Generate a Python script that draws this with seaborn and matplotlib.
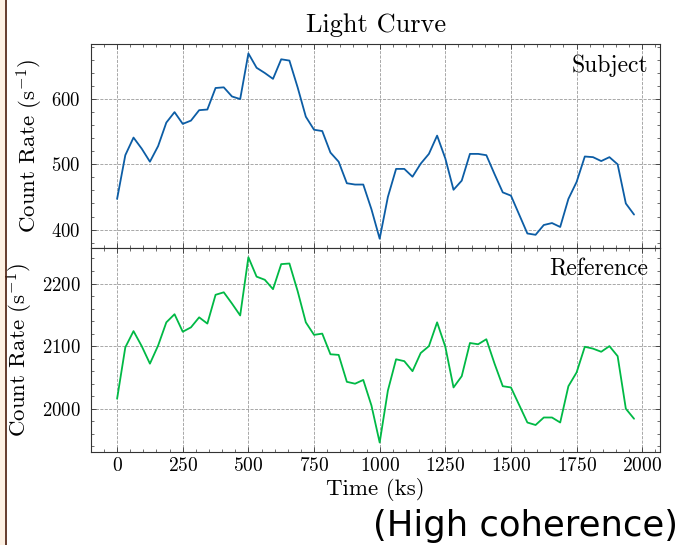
import numpy as np
import pandas as pd
import matplotlib
matplotlib.use("Agg")
import matplotlib.pyplot as plt
from matplotlib.ticker import AutoMinorLocator, MultipleLocator
from matplotlib.patches import Rectangle
from matplotlib.lines import Line2D
import seaborn as sns

# light curve binning: 64 bins of 31.25 ks
time = np.arange(64) * 31.25

subject = [447, 514, 541, 524, 504, 528, 564, 580, 562, 567,
           583, 584, 617, 618, 604, 600, 670, 648, 640, 631,
           661, 659, 618, 573, 553, 551, 518, 504, 471, 469,
           469, 431, 386, 450, 493, 493, 481, 501, 516, 544,
           509, 461, 475, 516, 516, 514, 485, 457, 452, 423,
           394, 392, 407, 410, 404, 447, 473, 512, 511, 505,
           511, 500, 440, 423]

reference = [2016, 2098, 2124, 2100, 2072, 2101, 2138, 2151, 2123, 2130,
             2146, 2136, 2182, 2186, 2168, 2149, 2242, 2211, 2206, 2191,
             2231, 2232, 2188, 2138, 2118, 2120, 2087, 2086, 2043, 2040,
             2046, 2005, 1946, 2029, 2079, 2076, 2060, 2089, 2100, 2138,
             2099, 2034, 2052, 2105, 2103, 2111, 2072, 2036, 2034, 2006,
             1978, 1974, 1986, 1986, 1978, 2036, 2058, 2099, 2096, 2091,
             2100, 2084, 2000, 1984]

df = pd.DataFrame({"time": time, "subject": subject, "reference": reference})

sns.set_style("ticks")
plt.rcParams['font.family'] = 'serif'
plt.rcParams['font.serif'] = ['cmr10']
plt.rcParams['mathtext.fontset'] = 'cm'
plt.rcParams['axes.formatter.use_mathtext'] = True
plt.rcParams['axes.unicode_minus'] = False
plt.rcParams['text.color'] = 'black'
plt.rcParams['axes.labelcolor'] = 'black'

plt.rc('xtick', direction='in', top=True, labelsize=14)
plt.rc('ytick', direction='in', right=True, labelsize=13.5)
plt.rc('xtick.major', size=3.5, width=0.6, pad=4)
plt.rc('ytick.major', size=3.5, width=0.6, pad=7.5)
plt.rc('xtick.minor', visible=True, size=2, width=0.5)
plt.rc('ytick.minor', visible=True, size=2, width=0.5)
plt.rc('axes', linewidth=0.8, edgecolor='#333333', labelsize=16.5, titlesize=19)

fig, (ax1, ax2) = plt.subplots(2, 1, sharex=True, figsize=(6.81, 5.45), dpi=100)
fig.subplots_adjust(left=0.134, right=0.969, top=0.919, bottom=0.171, hspace=0)

sns.lineplot(data=df, x="time", y="subject", ax=ax1, color="#0C5DA5", linewidth=1.3)
sns.lineplot(data=df, x="time", y="reference", ax=ax2, color="#00B945", linewidth=1.3)

for ax in (ax1, ax2):
    ax.grid(True, linestyle='--', color='gray', linewidth=0.6, alpha=0.8)
    ax.xaxis.set_major_locator(MultipleLocator(250))
    ax.xaxis.set_minor_locator(AutoMinorLocator(5))
    ax.yaxis.set_major_locator(MultipleLocator(100))
    ax.yaxis.set_minor_locator(AutoMinorLocator(5))
    ax.set_ylabel(r'Count Rate (s$^{-1}$)')
    ax.tick_params(which='both', colors='#333333', labelcolor='black')

ax1.yaxis.set_label_coords(-0.081, 0.5)
ax2.yaxis.set_label_coords(-0.099, 0.5)

ax1.set_xlabel('')
ax1.tick_params(labelbottom=False)
ax2.set_xlabel('Time (ks)', labelpad=2)
ax1.set_title('Light Curve', pad=9)

ax1.text(0.98, 0.95, 'Subject', transform=ax1.transAxes, ha='right', va='top', fontsize=17)
ax2.text(0.98, 0.95, 'Reference', transform=ax2.transAxes, ha='right', va='top', fontsize=17)

# border strip at left edge
fig.patches.append(Rectangle((0, 0), 5 / 681, 1, transform=fig.transFigure,
                             facecolor='#fdf1e3', edgecolor='none', zorder=0))
fig.lines.append(Line2D([5.5 / 681, 5.5 / 681], [0, 1], transform=fig.transFigure,
                        color='#4a1a08', linewidth=1.2))

fig.text(0.996, 0.003, '(High coherence)', ha='right', va='bottom',
         fontsize=25.5, family='DejaVu Sans', color='black')

plt.savefig('out.png', dpi=100)
